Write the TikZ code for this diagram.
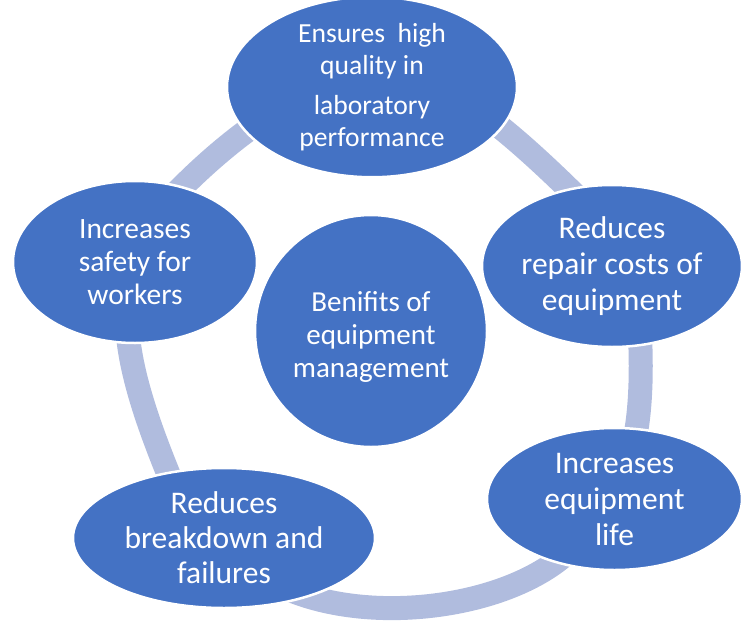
\documentclass[tikz,border=0pt]{standalone}
\usepackage{fontspec}
\setmainfont{Carlito}
\usetikzlibrary{shapes.geometric}
\definecolor{nodeblue}{HTML}{4472C4}
\definecolor{ringblue}{RGB}{176,188,222}
\begin{document}
\begin{tikzpicture}[x=1pt,y=-1pt,
  bubble/.style={ellipse,fill=nodeblue,draw=white,line width=2.5pt,
    text=white,align=center,inner sep=0pt},
  ringseg/.style={draw=ringblue,line width=24pt}]
\useasboundingbox (0,0) rectangle (742,621);
\clip (0,0) rectangle (742,621);
% ring segment end points (under the bubbles)
\coordinate (a1) at (480,112); \coordinate (a2) at (585,205);
\coordinate (b1) at (639,320); \coordinate (b2) at (632,450);
\coordinate (c1) at (575,545); \coordinate (c2) at (290,590);
\coordinate (d1) at (175,490); \coordinate (d2) at (127,320);
\coordinate (e1) at (165,205); \coordinate (e2) at (265,118);
\draw[ringseg] (a1) .. controls (512,134) and (555,175) .. (a2);
\draw[ringseg] (b1) .. controls (642,360) and (642,415) .. (b2);
\draw[ringseg] (c1) .. controls (520,605) and (380,627) .. (c2);
\draw[ringseg] (d1) .. controls (150,430) and (128,370) .. (d2);
\draw[ringseg] (e1) .. controls (195,172) and (232,140) .. (e2);
% nodes
\node[bubble,minimum width=290pt,minimum height=158pt,font=\fontsize{27.6}{32}\selectfont] (top) at (372,87)
  {Ensures~ high\\quality in\\[8pt]laboratory\\performance};
\node[bubble,minimum width=260pt,minimum height=162pt,font=\fontsize{31.5}{36}\selectfont] (ru) at (612,266)
  {Reduces\\repair costs of\\equipment};
\node[bubble,minimum width=255pt,minimum height=142pt,font=\fontsize{31.5}{36}\selectfont] (rl) at (614.5,499)
  {Increases\\equipment\\life};
\node[bubble,minimum width=302pt,minimum height=140pt,font=\fontsize{31.5}{35}\selectfont] (bl) at (224,538)
  {Reduces\\breakdown and\\failures};
\node[bubble,minimum width=244pt,minimum height=162pt,font=\fontsize{29.5}{33}\selectfont] (lf) at (135,262)
  {Increases\\safety for\\workers};
\node[circle,fill=nodeblue,draw=white,line width=2.5pt,inner sep=0pt,minimum size=232pt,
  label={[text=white,align=center,yshift=-6pt,font=\fontsize{29}{33}\selectfont]center:Benifits of\\equipment\\management}] (ctr) at (371,331) {};
\end{tikzpicture}
\end{document}
